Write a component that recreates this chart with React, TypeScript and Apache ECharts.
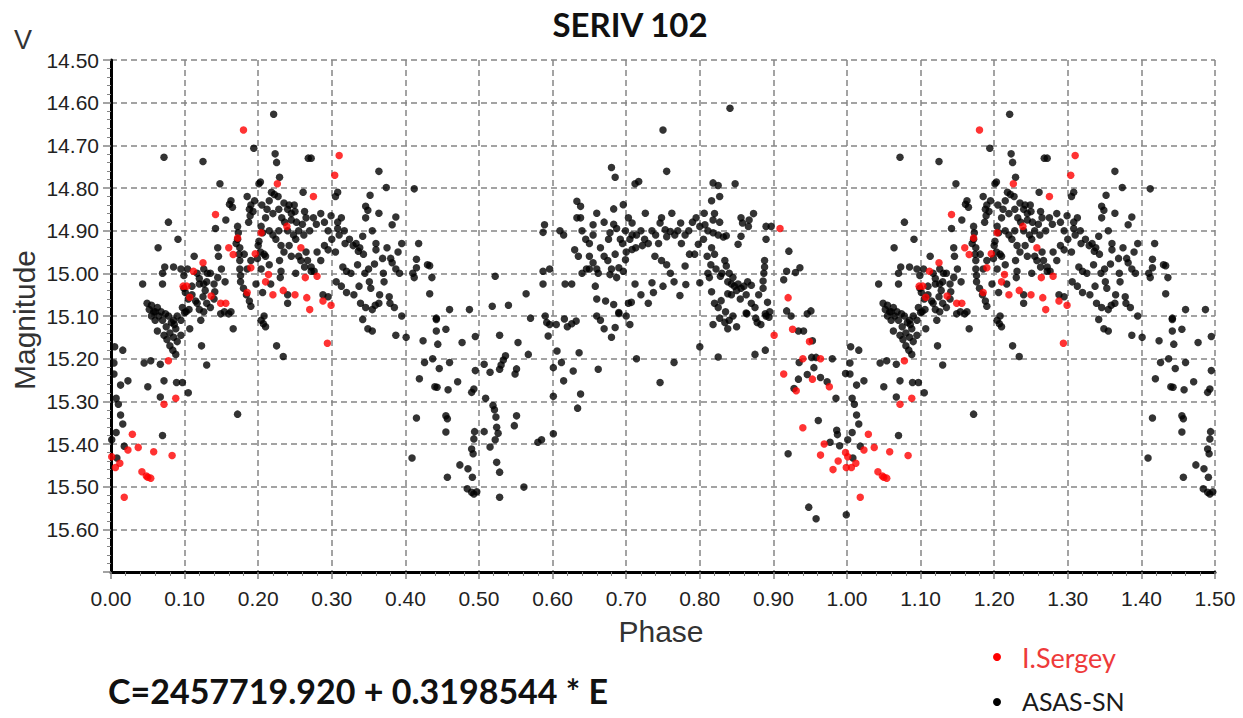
import React, { useEffect, useRef } from "react";
import * as echarts from "echarts";

// Phase-folded observations [phase, V magnitude]
const asasPoints: number[][] = [
  [0.221,14.627],[0.072,14.728],[0.125,14.738],[0.194,14.707],[0.223,14.72],[0.225,14.74],[0.268,14.73],[0.272,14.73],
  [0.148,14.79],[0.201,14.79],[0.203,14.786],[0.229,14.775],[0.308,14.81],[0.305,14.82],[0.261,14.81],[0.163,14.83],
  [0.165,14.845],[0.161,14.838],[0.19,14.84],[0.193,14.855],[0.188,14.85],[0.189,14.865],[0.187,14.88],[0.21,14.87],
  [0.218,14.81],[0.222,14.815],[0.227,14.82],[0.235,14.835],[0.242,14.84],[0.249,14.84],[0.24,14.85],[0.245,14.86],
  [0.25,14.855],[0.245,14.875],[0.252,14.88],[0.26,14.885],[0.263,14.855],[0.265,14.87],[0.279,14.885],[0.299,14.865],
  [0.313,14.87],[0.308,14.88],[0.156,14.875],[0.142,14.895],[0.078,14.88],[0.091,14.92],[0.064,14.94],[0.172,14.89],
  [0.173,14.905],[0.172,14.92],[0.204,14.89],[0.206,14.905],[0.201,14.925],[0.17,14.93],[0.175,14.94],[0.181,14.955],
  [0.2,14.935],[0.203,14.95],[0.224,14.92],[0.231,14.935],[0.235,14.95],[0.242,14.935],[0.251,14.92],[0.255,14.96],
  [0.258,14.97],[0.267,14.97],[0.272,14.985],[0.276,14.995],[0.29,14.935],[0.295,14.945],[0.305,14.95],[0.324,14.92],
  [0.329,14.935],[0.308,14.895],[0.317,14.9],[0.315,14.985],[0.32,14.995],[0.326,15.0],[0.145,14.94],[0.146,14.96],
  [0.113,14.96],[0.126,14.99],[0.131,15.0],[0.095,14.99],[0.099,15.005],[0.073,14.985],[0.07,15.0],[0.07,15.025],
  [0.043,15.025],[0.085,14.985],[0.104,14.99],[0.099,15.035],[0.101,15.045],[0.117,15.0],[0.12,15.012],[0.12,15.025],
  [0.126,15.025],[0.128,15.04],[0.14,15.025],[0.141,15.043],[0.14,15.06],[0.174,14.955],[0.175,14.97],[0.175,14.99],
  [0.176,15.005],[0.176,15.02],[0.18,15.035],[0.184,15.05],[0.188,15.065],[0.19,15.077],[0.197,15.025],[0.206,15.045],
  [0.199,14.965],[0.204,14.99],[0.208,14.955],[0.217,15.025],[0.229,14.97],[0.231,14.995],[0.24,15.05],[0.24,15.07],
  [0.23,15.01],[0.251,15.0],[0.263,14.985],[0.272,14.995],[0.288,15.05],[0.295,15.055],[0.306,15.02],[0.313,15.03],
  [0.32,15.045],[0.049,15.07],[0.052,15.085],[0.058,15.09],[0.055,15.075],[0.063,15.08],[0.068,15.09],[0.074,15.095],
  [0.097,15.08],[0.102,15.09],[0.106,15.085],[0.117,15.07],[0.12,15.085],[0.126,15.09],[0.154,15.09],[0.163,15.09],
  [0.208,15.1],
  [0.1,15.092],[0.149,15.095],[0.16,15.095],[0.204,15.11],[0.207,15.118],[0.21,15.125],[0.166,15.13],[0.123,15.17],
  [0.225,15.17],[0.234,15.195],[0.085,15.11],[0.086,15.12],[0.088,15.13],[0.063,15.135],[0.072,15.145],[0.076,15.155],
  [0.08,15.17],[0.084,15.18],[0.088,15.19],[0.107,15.13],[0.122,15.11],[0.045,15.21],[0.054,15.205],[0.067,15.213],
  [0.13,15.215],[0.005,15.172],[0.016,15.18],[0.004,15.21],[0.004,15.236],[0.013,15.262],[0.023,15.252],[0.05,15.266],
  [0.072,15.252],[0.089,15.256],[0.097,15.256],[0.105,15.28],[0.067,15.29],[0.007,15.293],[0.01,15.307],[0.013,15.332],
  [0.016,15.353],[0.172,15.33],[0.007,15.373],[0.07,15.38],[0.001,15.39],[0.018,15.405],[0.008,15.433],
  [0.364,14.761],[0.374,14.799],[0.412,14.802],[0.352,14.817],[0.346,14.843],[0.349,14.852],[0.346,14.87],[0.364,14.859],
  [0.387,14.868],[0.382,14.886],[0.355,14.9],[0.342,14.913],[0.333,14.93],[0.338,14.94],[0.343,14.955],[0.336,14.948],
  [0.36,14.93],[0.36,14.945],[0.418,14.93],[0.369,14.965],[0.38,14.965],[0.382,14.975],[0.358,14.978],[0.387,14.99],
  [0.392,15.0],[0.415,14.967],[0.415,14.987],[0.43,14.98],[0.433,14.982],[0.41,15.0],[0.412,15.01],[0.436,15.01],
  [0.351,15.02],[0.353,15.035],[0.337,15.03],[0.371,15.02],[0.433,15.048],[0.378,15.055],[0.379,15.07],[0.339,15.07],
  [0.346,15.08],[0.355,15.085],[0.359,15.075],[0.364,15.07],[0.46,15.085],[0.487,15.085],[0.442,15.105],[0.522,15.007],
  [0.564,15.048],[0.518,15.077],[0.54,15.075],[0.587,14.995],[0.596,14.99],[0.587,15.025],[0.617,15.025],[0.626,15.025],
  [0.589,14.886],[0.587,14.904],[0.61,14.9],[0.615,14.91],[0.633,14.831],[0.638,14.843],[0.633,14.87],[0.638,14.87],
  [0.655,14.886],[0.66,14.859],[0.63,14.945],[0.635,14.96],[0.65,14.96],[0.655,14.975],[0.66,14.99],[0.662,15.0],
  [0.65,14.99],[0.64,15.0],[0.646,14.99],[0.658,15.03],[0.66,15.06],
  [0.342,15.108],[0.349,15.13],[0.355,15.135],[0.387,15.145],[0.401,15.15],[0.442,15.108],[0.442,15.135],[0.444,15.166],
  [0.455,15.131],[0.424,15.158],[0.437,15.2],[0.426,15.209],[0.446,15.223],[0.46,15.209],[0.477,15.162],[0.495,15.148],
  [0.528,15.145],[0.553,15.162],[0.567,15.19],[0.536,15.193],[0.533,15.203],[0.53,15.215],[0.528,15.225],[0.551,15.224],
  [0.549,15.236],[0.507,15.213],[0.495,15.228],[0.515,15.232],[0.419,15.247],[0.44,15.266],[0.443,15.267],[0.458,15.273],
  [0.471,15.254],[0.493,15.271],[0.49,15.279],[0.509,15.293],[0.519,15.31],[0.521,15.32],[0.523,15.337],[0.415,15.339],
  [0.455,15.334],[0.457,15.341],[0.455,15.372],[0.551,15.334],[0.548,15.357],[0.601,15.288],[0.601,15.376],[0.494,15.371],
  [0.493,15.388],[0.507,15.371],[0.524,15.361],[0.526,15.375],[0.522,15.39],[0.515,15.407],[0.58,15.396],[0.585,15.39],
  [0.49,15.412],[0.492,15.423],[0.409,15.433],[0.474,15.449],[0.485,15.458],[0.491,15.478],[0.524,15.443],[0.528,15.466],
  [0.457,15.478],[0.484,15.505],[0.49,15.513],[0.497,15.512],[0.493,15.517],[0.528,15.525],[0.561,15.501],[0.57,15.105],
  [0.59,15.1],[0.592,15.115],[0.596,15.12],[0.605,15.12],[0.616,15.107],[0.62,15.125],[0.626,15.118],[0.632,15.112],
  [0.594,15.147],[0.606,15.182],[0.601,15.221],[0.612,15.209],[0.615,15.252],[0.628,15.229],[0.636,15.186],[0.638,15.283],
  [0.634,15.316],[0.662,15.225],
  [0.841,14.613],[0.75,14.664],[0.68,14.752],[0.685,14.775],[0.755,14.761],[0.712,14.79],[0.717,14.785],[0.818,14.788],
  [0.825,14.794],[0.848,14.79],[0.816,14.83],[0.827,14.82],[0.683,14.849],[0.696,14.839],[0.703,14.87],[0.708,14.882],
  [0.726,14.859],[0.748,14.87],[0.746,14.882],[0.762,14.859],[0.774,14.882],[0.67,14.88],[0.683,14.885],[0.678,14.905],
  [0.687,14.895],[0.676,14.92],[0.699,14.9],[0.708,14.91],[0.714,14.91],[0.753,14.898],[0.76,14.902],[0.766,14.91],
  [0.755,14.914],[0.744,14.93],[0.73,14.93],[0.722,14.935],[0.713,14.94],[0.708,14.944],[0.692,14.92],[0.685,14.955],
  [0.69,14.987],[0.696,14.995],[0.699,14.968],[0.739,14.96],[0.748,14.97],[0.755,14.98],[0.806,14.859],[0.8,14.89],
  [0.807,14.886],[0.811,14.9],[0.818,14.905],[0.825,14.91],[0.832,14.915],[0.836,14.912],[0.818,14.875],[0.82,14.86],
  [0.827,14.88],[0.856,14.87],[0.858,14.882],[0.867,14.875],[0.873,14.86],[0.866,14.89],[0.856,14.913],[0.852,14.932],
  [0.89,14.89],[0.897,14.89],[0.89,14.92],[0.798,14.932],[0.816,14.94],[0.82,14.955],[0.786,14.955],[0.793,14.955],
  [0.78,14.983],[0.834,14.97],[0.836,14.983],[0.888,14.97],[0.888,14.985],[0.887,15.0],[0.886,15.018],[0.886,15.035],
  [0.811,15.0],[0.813,15.01],[0.828,15.007],[0.838,15.02],[0.843,15.025],[0.852,15.025],[0.847,15.03],[0.856,15.035],
  [0.863,15.05],[0.87,15.028],[0.843,15.05],[0.838,15.048],[0.816,15.043],[0.8,15.022],[0.829,15.064],[0.863,15.093],
  [0.781,15.026],[0.773,15.052],[0.735,15.022],[0.737,15.045],[0.712,15.025],[0.703,15.07],[0.707,15.068],[0.69,15.092],
  [0.683,15.073],[0.672,15.065],[0.678,15.003],[0.687,15.01],[0.892,15.068],[0.895,15.09],[0.89,15.1],[0.918,15.088],
  [0.924,15.1],[0.951,15.088],[0.946,15.095],[0.921,14.948],[0.918,14.995],[0.914,15.015],[0.93,14.998],[0.936,14.987],
  [0.685,15.127],[0.69,15.094],[0.714,15.2],[0.765,15.209],[0.746,15.256],[0.8,15.172],[0.825,15.196],[0.818,15.12],
  [0.827,15.105],[0.834,15.115],[0.838,15.13],[0.84,15.11],[0.845,15.1],[0.85,15.125],[0.864,15.095],[0.876,15.105],
  [0.878,15.115],[0.883,15.12],[0.889,15.095],[0.894,15.103],[0.875,15.19],[0.889,15.18],[0.934,15.135],[0.941,15.135],
  [0.953,15.158],[0.935,15.209],[0.952,15.197],[0.958,15.197],[0.955,15.221],[0.946,15.237],[0.934,15.248],[0.928,15.27],
  [0.964,15.244],[0.973,15.254],[0.985,15.293],[0.98,15.2],[0.998,15.235],[0.961,15.345],[0.986,15.368],[0.987,15.378],
  [0.977,15.396],[0.99,15.404],[0.92,15.423],[0.948,15.548],[0.958,15.575],[0.999,15.566],
  // denser parts of the clusters
  [0.055,15.1],[0.06,15.11],[0.065,15.1],[0.07,15.11],[0.078,15.1],[0.082,15.115],[0.09,15.1],[0.095,15.11],
  [0.06,15.09],[0.075,15.125],[0.08,15.14],[0.085,15.15],[0.09,15.16],[0.095,15.145],
  [0.105,15.06],[0.11,15.05],[0.115,15.065],[0.125,15.055],[0.13,15.07],[0.135,15.08],[0.11,15.03],[0.13,15.02],
  [0.135,15.0],[0.145,15.01],[0.15,14.99],[0.155,15.02],
  [0.185,14.82],[0.195,14.83],[0.205,14.84],[0.212,14.85],[0.215,14.83],[0.22,14.86],[0.228,14.85],[0.232,14.87],
  [0.236,14.88],[0.215,14.9],[0.22,14.91],[0.228,14.9],[0.24,14.9],[0.248,14.91],[0.255,14.9],[0.262,14.91],
  [0.27,14.9],[0.275,14.87],[0.285,14.86],[0.29,14.88],[0.295,14.9],[0.3,14.92],[0.31,14.91],[0.318,14.93],
  [0.28,14.95],[0.285,14.97],[0.265,14.95],[0.245,14.96],[0.21,14.96],[0.215,14.98],[0.19,14.97],[0.185,14.99],
  [0.335,14.98],[0.345,15.0],[0.35,14.99],[0.37,15.0],[0.375,14.94],[0.39,14.95],[0.395,14.93],[0.365,15.05],
  [0.385,15.08],[0.395,15.1],[0.33,15.05],
  [0.64,14.9],[0.645,14.92],[0.65,14.93],[0.655,14.91],[0.665,14.94],[0.67,14.96],[0.675,14.97],[0.68,14.99],
  [0.695,14.93],[0.7,14.95],[0.705,14.92],[0.72,14.9],[0.725,14.92],[0.735,14.9],[0.74,14.91],[0.77,14.9],
  [0.775,14.93],[0.78,14.91],[0.785,14.9],[0.79,14.88],[0.795,14.87],[0.805,14.92],[0.81,14.96],[0.815,14.98],
  [0.822,14.99],[0.83,15.0],[0.84,15.0],[0.845,15.01],[0.85,15.04],[0.855,15.06],[0.86,15.03],[0.865,15.02],
  [0.87,15.07],[0.875,15.08],[0.88,15.05],[0.82,15.07],[0.825,15.08],[0.835,15.09],[0.66,15.1],[0.665,15.11],
  [0.67,15.13],[0.68,15.15],[0.7,15.1],[0.705,15.12],[0.72,15.05],[0.73,15.07],[0.75,15.03],[0.76,15.0],[0.765,15.02]
];

const sergeyPoints: number[][] = [
  [0.18,14.664],[0.31,14.724],[0.304,14.77],[0.226,14.79],[0.275,14.82],[0.142,14.862],[0.239,14.89],[0.172,14.917],
  [0.204,14.905],[0.16,14.94],[0.166,14.956],[0.258,14.94],[0.196,14.954],[0.125,14.975],[0.19,14.987],[0.112,14.995],
  [0.214,15.003],[0.21,15.02],[0.264,15.01],[0.28,15.007],[0.098,15.03],[0.103,15.03],[0.107,15.056],[0.136,15.053],
  [0.185,15.045],[0.22,15.05],[0.234,15.04],[0.25,15.05],[0.266,15.057],[0.288,15.065],[0.299,15.075],[0.27,15.085],
  [0.149,15.07],[0.156,15.07],
  [0.294,15.164],[0.078,15.205],[0.088,15.293],[0.072,15.307],[0.029,15.377],[0.023,15.414],[0.037,15.408],[0.058,15.418],
  [0.083,15.427],[0.012,15.445],[0.006,15.455],[0.001,15.43],[0.042,15.465],[0.048,15.475],[0.054,15.48],[0.05,15.478],
  [0.018,15.525],
  [0.909,14.895],[0.92,15.057],[0.901,15.145],[0.926,15.131],[0.949,15.16],[0.94,15.2],[0.964,15.2],[0.914,15.236],
  [0.953,15.248],[0.931,15.275],[0.976,15.266],[0.94,15.362],[0.969,15.4],[0.964,15.426],[0.988,15.44],[0.998,15.42],
  [0.981,15.46],[0.999,15.455]
];

const seriesNames = ["ASAS-SN", "I.Sergey"];
const titleText = "SERIV 102";
const ephemerisText = "C=2457719.920 + 0.3198544 * E";

// The folded curve is shown over 1.5 cycles: phases 0..0.5 are drawn again at 1..1.5
const foldedView = (pts: number[][]) =>
  pts.concat(pts.filter((p) => p[0] <= 0.5).map((p) => [p[0] + 1, p[1]]));

export default function App() {
  const ref = useRef<HTMLDivElement>(null);
  useEffect(() => {
    if (!ref.current) return;
    const chart = echarts.init(ref.current, null, { renderer: "svg" });
    const gridDash = { color: "#858585", width: 1.5, type: [6, 4] as any };
    chart.setOption({
      animation: false,
      backgroundColor: "#fff",
      grid: { left: 111, right: 28, top: 60, bottom: 146 },
      xAxis: {
        type: "value",
        min: 0,
        max: 1.5,
        interval: 0.1,
        axisLine: { show: true, onZero: false, lineStyle: { color: "#000", width: 3 } },
        axisTick: { show: true, length: 7, lineStyle: { color: "#858585", width: 1.5 } },
        minorTick: { show: true, splitNumber: 5, length: 4, lineStyle: { color: "#858585" } },
        axisLabel: {
          formatter: (v: number) => v.toFixed(2),
          fontSize: 21,
          fontFamily: "'Liberation Sans', Arial, sans-serif",
          color: "#222",
          margin: 16,
        },
        splitLine: { show: true, lineStyle: gridDash },
      },
      yAxis: {
        type: "value",
        inverse: true,
        min: 14.5,
        max: 15.7,
        interval: 0.1,
        axisLine: { show: true, onZero: false, lineStyle: { color: "#000", width: 3 } },
        axisTick: { show: true, length: 8, lineStyle: { color: "#858585", width: 1.5 } },
        minorTick: { show: true, splitNumber: 5, length: 4, lineStyle: { color: "#858585" } },
        axisLabel: {
          formatter: (v: number) => (v > 15.65 ? "" : v.toFixed(2)),
          fontSize: 21,
          fontFamily: "'Liberation Sans', Arial, sans-serif",
          color: "#222",
          margin: 12,
        },
        splitLine: { show: true, lineStyle: gridDash },
      },
      series: [
        {
          name: seriesNames[0],
          type: "scatter",
          symbol: "circle",
          symbolSize: 7.5,
          itemStyle: { color: "#000" },
          data: foldedView(asasPoints),
          z: 2,
        },
        {
          name: seriesNames[1],
          type: "scatter",
          symbol: "circle",
          symbolSize: 7.5,
          itemStyle: { color: "#ff0000" },
          data: foldedView(sergeyPoints),
          z: 3,
        },
      ],
      graphic: [
        {
          type: "text", x: 630, y: 24,
          style: { text: titleText, font: "bold 33px Lato, 'Open Sans', sans-serif", fill: "#111", textAlign: "center", textVerticalAlign: "middle" },
        },
        {
          type: "text", x: 23, y: 40,
          style: { text: "V", font: "27px 'Liberation Sans', Arial, sans-serif", fill: "#333", textAlign: "center", textVerticalAlign: "middle" },
        },
        {
          type: "text", x: 24, y: 320, rotation: Math.PI / 2,
          style: { text: "Magnitude", font: "30px 'Liberation Sans', Arial, sans-serif", fill: "#333", textAlign: "center", textVerticalAlign: "middle" },
        },
        {
          type: "text", x: 661, y: 631,
          style: { text: "Phase", font: "30px 'Liberation Sans', Arial, sans-serif", fill: "#333", textAlign: "center", textVerticalAlign: "middle" },
        },
        {
          type: "text", x: 108, y: 690,
          style: { text: ephemerisText, font: "bold 34px Lato, 'Open Sans', sans-serif", fill: "#111", textAlign: "left", textVerticalAlign: "middle" },
        },
        { type: "circle", shape: { cx: 997, cy: 657, r: 4 }, style: { fill: "#ff0000" } },
        {
          type: "text", x: 1022, y: 657,
          style: { text: seriesNames[1], font: "27px Lato, 'Open Sans', sans-serif", fill: "#ee3a3a", textAlign: "left", textVerticalAlign: "middle" },
        },
        { type: "circle", shape: { cx: 997, cy: 702, r: 4 }, style: { fill: "#000" } },
        {
          type: "text", x: 1022, y: 701,
          style: { text: seriesNames[0], font: "25px Lato, 'Open Sans', sans-serif", fill: "#1a1a1a", textAlign: "left", textVerticalAlign: "middle" },
        },
      ],
    });
    return () => chart.dispose();
  }, []);
  return (
    <div
      ref={ref}
      style={{ position: "fixed", left: 0, top: 0, width: 1243, height: 718, background: "#fff" }}
    />
  );
}
